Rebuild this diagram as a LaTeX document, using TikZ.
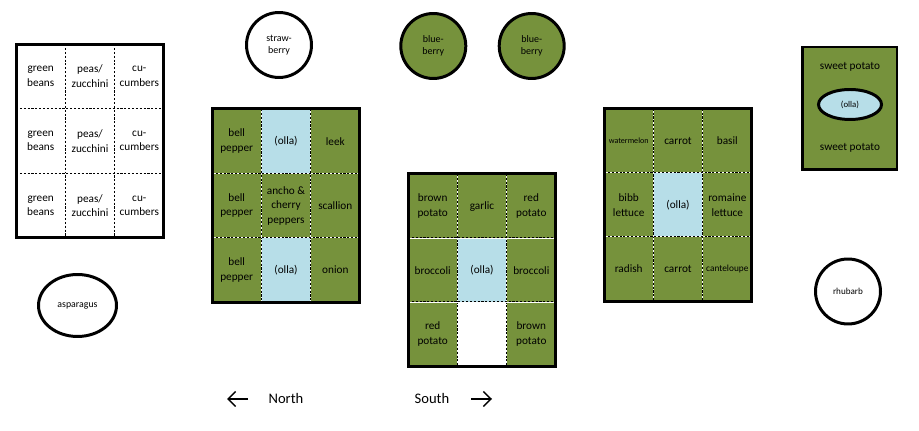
\documentclass[tikz,border=0pt]{standalone}
\usepackage{fontspec}
\setmainfont{Carlito}
\usepackage{tikz}
\usetikzlibrary{arrows.meta,shapes,positioning}
\definecolor{gdgreen}{HTML}{76923C}
\definecolor{gdwater}{HTML}{B7DEE8}
\newcommand{\gdsize}{\fontsize{6.4}{8.3}\selectfont}
\newcommand{\gdsmall}{\fontsize{5.7}{6.8}\selectfont}
\tikzset{
  gdcell/.style={
    rectangle, minimum width=0.987cm, minimum height=1.29cm,
    inner sep=0pt, outer sep=0pt, align=center, font=\gdsize
  },
  gdsoil/.style={gdcell,fill=gdgreen},
  gdolla/.style={gdcell,fill=gdwater},
  gdbare/.style={gdcell,fill=white},
  gdframe/.style={draw=black,line width=1.7pt},
  gdsplit/.style={black,line width=0.6pt,dash pattern=on 1.2pt off 1pt,
    preaction={draw=white,solid}},
  gdbush/.style={
    circle, draw=black, line width=1.7pt, minimum size=1.3cm,
    inner sep=0pt, align=center, font=\gdsmall
  },
  gdpatch/.style={
    ellipse, draw=black, line width=1.7pt, inner sep=0pt, align=center
  },
  gdlabel/.style={font=\fontsize{8.3}{10}\selectfont,inner sep=0pt},
  gdarrow/.style={-{Straight Barb[length=4.3pt,width=8.5pt]},line width=0.85pt}
}

\begin{document}
\begin{tikzpicture}[x=0.02cm,y=-0.02cm]
  \useasboundingbox (0,0) rectangle (919,431);
  % vine grid (left)
  \node[gdbare] (lg11) at (40.7,76.3) {green\\beans};
  \node[gdbare] (lg12) at (90,76.3) {peas/\\zucchini};
  \node[gdbare] (lg13) at (139.3,76.3) {cu-\\cumbers};
  \node[gdbare] (lg21) at (40.7,141) {green\\beans};
  \node[gdbare] (lg22) at (90,141) {peas/\\zucchini};
  \node[gdbare] (lg23) at (139.3,141) {cu-\\cumbers};
  \node[gdbare] (lg31) at (40.7,205.7) {green\\beans};
  \node[gdbare] (lg32) at (90,205.7) {peas/\\zucchini};
  \node[gdbare] (lg33) at (139.3,205.7) {cu-\\cumbers};
  % pepper bed
  \node[gdsoil] (pb11) at (236.7,141.2) {bell\\pepper};
  \node[gdolla] (pb12) at (286,141.2) {(olla)};
  \node[gdsoil] (pb13) at (335.3,141.2) {leek};
  \node[gdsoil] (pb21) at (236.7,205.6) {bell\\pepper};
  \node[gdsoil] (pb22) at (286,205.6) {ancho \&\\cherry\\peppers};
  \node[gdsoil] (pb23) at (335.3,205.6) {scallion};
  \node[gdsoil] (pb31) at (236.7,270) {bell\\pepper};
  \node[gdolla] (pb32) at (286,270) {(olla)};
  \node[gdsoil] (pb33) at (335.3,270) {onion};
  % potato bed
  \node[gdsoil] (tb11) at (432.7,206.1) {brown\\potato};
  \node[gdsoil] (tb12) at (482,206.1) {garlic};
  \node[gdsoil] (tb13) at (531.3,206.1) {red\\potato};
  \node[gdsoil] (tb21) at (432.7,270.2) {broccoli};
  \node[gdolla] (tb22) at (482,270.2) {(olla)};
  \node[gdsoil] (tb23) at (531.3,270.2) {broccoli};
  \node[gdsoil] (tb31) at (432.7,334.2) {red\\potato};
  \node[gdbare] (tb32) at (482,334.2) {};
  \node[gdsoil] (tb33) at (531.3,334.2) {brown\\potato};
  % lettuce bed
  \node[gdsoil,font=\fontsize{4.6}{6}\selectfont] (lb11) at (628.7,141) {watermelon};
  \node[gdsoil] (lb12) at (678,141) {carrot};
  \node[gdsoil] (lb13) at (727.3,141) {basil};
  \node[gdsoil] (lb21) at (628.7,205) {bibb\\lettuce};
  \node[gdolla] (lb22) at (678,205) {(olla)};
  \node[gdsoil] (lb23) at (727.3,205) {romaine\\lettuce};
  \node[gdsoil] (lb31) at (628.7,269) {radish};
  \node[gdsoil] (lb32) at (678,269) {carrot};
  \node[gdsoil,font=\fontsize{5.3}{6}\selectfont] (lb33) at (727.3,269) {canteloupe};
  % cell borders and frames
  \draw[gdsplit] (lg12.north west) -- (lg32.south west);
  \draw[gdsplit] (lg13.north west) -- (lg33.south west);
  \draw[gdsplit] (lg21.north west) -- (lg23.north east);
  \draw[gdsplit] (lg31.north west) -- (lg33.north east);
  \draw[gdframe] (lg11.north west) rectangle (lg33.south east);
  \draw[gdsplit] (pb12.north west) -- (pb32.south west);
  \draw[gdsplit] (pb13.north west) -- (pb33.south west);
  \draw[gdsplit] (pb21.north west) -- (pb23.north east);
  \draw[gdsplit] (pb31.north west) -- (pb33.north east);
  \draw[gdframe] (pb11.north west) rectangle (pb33.south east);
  \draw[gdsplit] (tb12.north west) -- (tb32.south west);
  \draw[gdsplit] (tb13.north west) -- (tb33.south west);
  \draw[gdsplit] (tb21.north west) -- (tb23.north east);
  \draw[gdsplit] (tb31.north west) -- (tb33.north east);
  \draw[gdframe] (tb11.north west) rectangle (tb33.south east);
  \draw[gdsplit] (lb12.north west) -- (lb32.south west);
  \draw[gdsplit] (lb13.north west) -- (lb33.south west);
  \draw[gdsplit] (lb21.north west) -- (lb23.north east);
  \draw[gdsplit] (lb31.north west) -- (lb33.north east);
  \draw[gdframe] (lb11.north west) rectangle (lb33.south east);
  % sweet potato bed
  \node[gdframe,fill=gdgreen,minimum width=1.9cm,minimum height=2.46cm,inner sep=0pt] (sp) at (849.5,108.5) {};
  \node[font=\gdsize,inner sep=0pt] (spt) at (850,67) {sweet potato};
  \node[font=\gdsize,inner sep=0pt] (spb) at (850,148) {sweet potato};
  \node[gdpatch,fill=gdwater,minimum width=1.26cm,minimum height=0.6cm,font=\fontsize{5}{6}\selectfont] (spo) at (850,104.5) {(olla)};
  % bushes and perennials
  \node[gdbush,fill=white] (straw) at (279,45) {straw-\\berry};
  \node[gdbush,fill=gdgreen] (blue1) at (433.3,46) {blue-\\berry};
  \node[gdbush,fill=gdgreen] (blue2) at (531.7,46) {blue-\\berry};
  \node[gdpatch,fill=white,minimum width=1.56cm,minimum height=1.24cm,font=\fontsize{5.6}{6}\selectfont] (aspar) at (77.5,305.5) {asparagus};
  \node[gdbush,fill=white,font=\fontsize{5.2}{6}\selectfont] (rhub) at (848,291.5) {rhubarb};
  % compass
  \node[gdlabel] (north) at (286,398) {North};
  \node[gdlabel] (south) at (432,398) {South};
  \coordinate (ntail) at (248,399);
  \coordinate (nhead) at (227,399);
  \coordinate (stail) at (471,399);
  \coordinate (shead) at (492,399);
  \draw[gdarrow] (ntail) -- (nhead);
  \draw[gdarrow] (stail) -- (shead);
\end{tikzpicture}
\end{document}
